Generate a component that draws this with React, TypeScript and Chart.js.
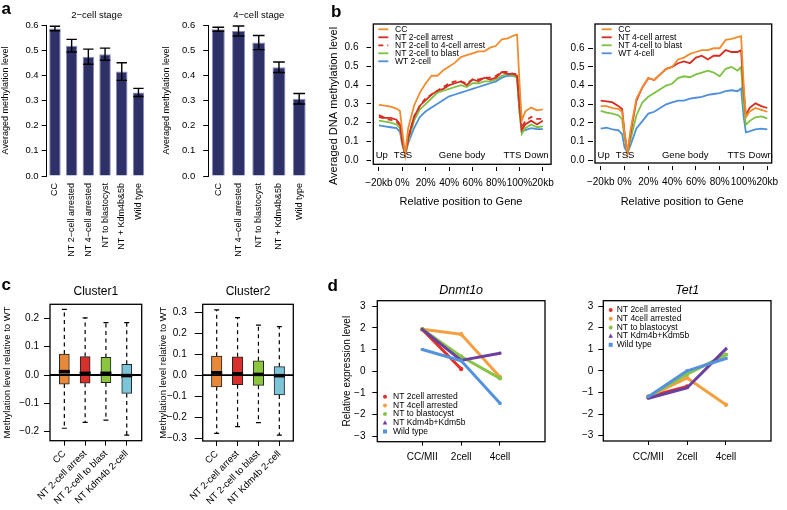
import React, { useEffect, useRef } from 'react';
import { Chart, registerables } from 'chart.js';

Chart.register(...registerables);

const FONT = "'Liberation Sans', Arial, Helvetica, sans-serif";
Chart.defaults.font.family = FONT;
Chart.defaults.color = '#000';

/* ---------------- panel a ---------------- */
const A1_LABELS = ['CC', 'NT 2−cell arrested', 'NT 4−cell arrested', 'NT to blastocyst', 'NT + Kdm4b&5b', 'Wild type'];
const A1_VALUES = [0.586, 0.518, 0.474, 0.484, 0.415, 0.332];
const A1_ERRORS = [0.009, 0.025, 0.03, 0.024, 0.035, 0.016];
const A2_LABELS = ['CC', 'NT 4−cell arrested', 'NT to blastocyst', 'NT + Kdm4b&5b', 'Wild type'];
const A2_VALUES = [0.583, 0.576, 0.53, 0.432, 0.307];
const A2_ERRORS = [0.008, 0.02, 0.028, 0.021, 0.021];
const A_YTICKS = [0, 0.1, 0.2, 0.3, 0.4, 0.5, 0.6];

/* ---------------- panel b ---------------- */
const B_X = [-20, -15, -10, -5, -2, 0, 2.5, 5, 10, 15, 20, 25, 30, 35, 40, 45, 50, 55, 60, 65, 70, 75, 80, 85, 90, 95, 98, 100, 102, 105, 110, 115, 120];
const B_XTICKS = [-20, 0, 20, 40, 60, 80, 100, 120];
const B_XTICK_LABELS = ['−20kb', '0%', '20%', '40%', '60%', '80%', '100%', '20kb'];
const B_YTICKS = [0, 0.1, 0.2, 0.3, 0.4, 0.5, 0.6];
const B_REGION_LABELS = ['Up', 'TSS', 'Gene body', 'TTS', 'Down'];
const B_REGION_X = [-17.5, 0.5, 51, 94, 114.5];

const B1_SERIES = ['CC', 'NT 2-cell arrest', 'NT 2-cell to 4-cell arrest', 'NT 2-cell to blast', 'WT 2-cell'];
const B1_CC = [0.295, 0.29, 0.285, 0.275, 0.262, 0.15, 0.03, 0.17, 0.29, 0.36, 0.41, 0.45, 0.45, 0.48, 0.5, 0.52, 0.55, 0.56, 0.57, 0.58, 0.58, 0.6, 0.61, 0.645, 0.65, 0.665, 0.67, 0.42, 0.21, 0.26, 0.28, 0.265, 0.27];
const B1_ARREST = [0.24, 0.225, 0.225, 0.215, 0.19, 0.1, 0.03, 0.12, 0.23, 0.29, 0.32, 0.35, 0.37, 0.38, 0.4, 0.41, 0.42, 0.4, 0.43, 0.42, 0.44, 0.43, 0.44, 0.47, 0.46, 0.46, 0.45, 0.3, 0.16, 0.19, 0.21, 0.19, 0.21];
const B1_TO4 = [0.23, 0.22, 0.215, 0.205, 0.185, 0.095, 0.03, 0.11, 0.23, 0.29, 0.33, 0.35, 0.37, 0.39, 0.41, 0.42, 0.42, 0.41, 0.43, 0.43, 0.44, 0.44, 0.45, 0.47, 0.47, 0.46, 0.46, 0.3, 0.17, 0.21, 0.23, 0.22, 0.22];
const B1_BLAST = [0.21, 0.205, 0.2, 0.19, 0.17, 0.09, 0.03, 0.1, 0.21, 0.27, 0.3, 0.33, 0.36, 0.37, 0.38, 0.39, 0.4, 0.39, 0.41, 0.41, 0.42, 0.42, 0.43, 0.45, 0.46, 0.45, 0.44, 0.26, 0.14, 0.17, 0.19, 0.175, 0.18];
const B1_WT = [0.185, 0.18, 0.175, 0.17, 0.15, 0.08, 0.03, 0.09, 0.17, 0.23, 0.26, 0.28, 0.3, 0.32, 0.34, 0.35, 0.36, 0.37, 0.38, 0.39, 0.4, 0.41, 0.42, 0.44, 0.45, 0.45, 0.44, 0.26, 0.15, 0.16, 0.17, 0.165, 0.165];

const B2_SERIES = ['CC', 'NT 4-cell arrest', 'NT 4-cell to blast', 'WT 4-cell'];
const B2_CC = [0.29, 0.29, 0.28, 0.275, 0.26, 0.14, 0.04, 0.16, 0.33, 0.39, 0.44, 0.43, 0.46, 0.49, 0.5, 0.54, 0.55, 0.57, 0.58, 0.59, 0.59, 0.6, 0.6, 0.645, 0.65, 0.66, 0.665, 0.42, 0.23, 0.26, 0.28, 0.27, 0.26];
const B2_ARREST = [0.32, 0.315, 0.31, 0.29, 0.275, 0.15, 0.04, 0.14, 0.32, 0.39, 0.44, 0.43, 0.46, 0.49, 0.5, 0.52, 0.53, 0.52, 0.55, 0.56, 0.54, 0.56, 0.56, 0.59, 0.58, 0.58, 0.59, 0.38, 0.24, 0.28, 0.305, 0.29, 0.28];
const B2_BLAST = [0.265, 0.255, 0.25, 0.24, 0.22, 0.12, 0.04, 0.11, 0.24, 0.31, 0.34, 0.36, 0.38, 0.4, 0.41, 0.44, 0.45, 0.445, 0.46, 0.47, 0.48, 0.47, 0.45, 0.49, 0.5, 0.48, 0.5, 0.3, 0.19, 0.21, 0.23, 0.235, 0.225];
const B2_WT = [0.17, 0.175, 0.165, 0.16, 0.14, 0.07, 0.04, 0.08, 0.17, 0.21, 0.25, 0.26, 0.28, 0.3, 0.31, 0.32, 0.32, 0.33, 0.335, 0.34, 0.35, 0.355, 0.36, 0.37, 0.375, 0.37, 0.385, 0.24, 0.15, 0.155, 0.165, 0.17, 0.165];

/* ---------------- panel c ---------------- */
const C_LABELS = ['CC', 'NT 2-cell arrest', 'NT 2-cell to blast', 'NT Kdm4b 2-cell'];
const C_COLORS = ['#E8893A', '#D7302D', '#8CC63F', '#7CC5D8'];
const C1_MAX = [0.232, 0.202, 0.185, 0.185];
const C1_Q3 = [0.074, 0.065, 0.062, 0.038];
const C1_MED = [0.012, 0.006, 0.006, -0.002];
const C1_Q1 = [-0.032, -0.029, -0.027, -0.065];
const C1_MIN = [-0.188, -0.167, -0.159, -0.212];
const C1_YTICKS = [-0.2, -0.1, 0, 0.1, 0.2];
const C2_MAX = [0.31, 0.273, 0.238, 0.23];
const C2_Q3 = [0.09, 0.087, 0.068, 0.04];
const C2_MED = [0.011, 0.006, 0.003, -0.003];
const C2_Q1 = [-0.056, -0.046, -0.049, -0.095];
const C2_MIN = [-0.278, -0.246, -0.227, -0.286];
const C2_YTICKS = [-0.3, -0.2, -0.1, 0, 0.1, 0.2, 0.3];

/* ---------------- panel d ---------------- */
const D_STAGES = ['CC/MII', '2cell', '4cell'];
const D_SERIES = ['NT 2cell arrested', 'NT 4cell arrested', 'NT to blastocyst', 'NT Kdm4b+Kdm5b', 'Wild type'];
const D_COLORS = ['#E0312A', '#F4A040', '#88C448', '#6B3FA0', '#5592DD'];
const D_MARKERS = ['circle', 'circle', 'circle', 'triangle', 'rect'];
const D_YTICKS = [-3, -2, -1, 0, 1, 2, 3];
const DNMT_2CELL_ARR = [1.93, 0.1];
const DNMT_4CELL_ARR = [1.93, 1.7, -0.27];
const DNMT_BLAST = [1.93, 0.68, -0.33];
const DNMT_KDM = [1.93, 0.5, 0.83];
const DNMT_WT = [1.0, 0.48, -1.48];
const TET_2CELL_ARR = [-1.2, -0.72];
const TET_4CELL_ARR = [-1.2, -0.33, -1.57];
const TET_BLAST = [-1.2, -0.15, 0.75];
const TET_KDM = [-1.27, -0.78, 1.02];
const TET_WT = [-1.2, 0.0, 0.57];

/* ---------------- helpers ---------------- */
const BLACK = '#000';
const tickGrid = (len: number) => ({ display: true, drawOnChartArea: false, drawTicks: true, tickLength: len, color: BLACK, lineWidth: 1, offset: false });
const fixedWidth = (w: number) => (s: any) => { s.width = w; };
const fixedHeight = (h: number) => (s: any) => { s.height = h; };
const setTicks = (vals: number[]) => (s: any) => { s.ticks = vals.map((v) => ({ value: v })); };
const fmt1 = (v: any) => { const s = Number(v).toFixed(1); return s.charAt(0) === '-' ? '−' + s.slice(1) : s; };
const fmtInt = (v: any) => { const n = Math.round(Number(v)); return n < 0 ? '−' + Math.abs(n) : String(n); };

const errorBarPlugin = {
  id: 'errorBars',
  afterDatasetsDraw(chart: any, _a: any, o: any) {
    if (!o || !o.errors) return;
    const { ctx } = chart;
    const y = chart.scales.y;
    const vals = chart.data.datasets[0].data;
    ctx.save();
    ctx.strokeStyle = BLACK;
    ctx.lineWidth = 1.4;
    chart.getDatasetMeta(0).data.forEach((el: any, i: number) => {
      const half = el.width * 0.45;
      const yt = y.getPixelForValue(vals[i] + o.errors[i]);
      const yb = y.getPixelForValue(vals[i] - o.errors[i]);
      ctx.beginPath();
      ctx.moveTo(el.x, yt); ctx.lineTo(el.x, yb);
      ctx.moveTo(el.x - half, yt); ctx.lineTo(el.x + half, yt);
      ctx.moveTo(el.x - half, yb); ctx.lineTo(el.x + half, yb);
      ctx.stroke();
    });
    ctx.restore();
  },
};

const framePlugin = {
  id: 'frame',
  afterDatasetsDraw(chart: any, _a: any, o: any) {
    if (!o || !o.show) return;
    const { ctx, chartArea: a } = chart;
    const l = a.left + (o.insetLeft || 0);
    const b = a.bottom - (o.insetBottom || 0);
    ctx.save();
    ctx.strokeStyle = BLACK;
    ctx.lineWidth = o.lineWidth || 1.2;
    ctx.strokeRect(l, a.top, a.right - l, b - a.top);
    ctx.restore();
  },
};

// y-axis title placed at a chosen vertical centre (the R label is not centred on the box)
const freeYTitlePlugin = {
  id: 'freeYTitle',
  afterDraw(chart: any, _a: any, o: any) {
    if (!o || !o.text) return;
    const { ctx } = chart;
    ctx.save();
    ctx.fillStyle = BLACK;
    ctx.font = `${o.size}px ${FONT}`;
    ctx.textAlign = 'center';
    ctx.textBaseline = 'middle';
    ctx.translate(o.x, o.y);
    ctx.rotate(-Math.PI / 2);
    ctx.fillText(o.text, 0, 0);
    ctx.restore();
  },
};

const regionTextPlugin = {
  id: 'regionText',
  afterDatasetsDraw(chart: any, _a: any, o: any) {
    if (!o || !o.labels) return;
    const { ctx, scales } = chart;
    ctx.save();
    ctx.fillStyle = BLACK;
    ctx.font = `${o.size}px ${FONT}`;
    ctx.textAlign = 'center';
    ctx.textBaseline = 'middle';
    o.labels.forEach((t: string, i: number) => {
      ctx.fillText(t, scales.x.getPixelForValue(o.xs[i]), scales.y.getPixelForValue(o.y));
    });
    ctx.restore();
  },
};

function drawMarker(ctx: any, style: string, x: number, y: number, r: number, color: string) {
  ctx.fillStyle = color;
  ctx.beginPath();
  if (style === 'triangle') {
    ctx.moveTo(x, y - r * 1.25);
    ctx.lineTo(x + r * 1.15, y + r * 0.8);
    ctx.lineTo(x - r * 1.15, y + r * 0.8);
    ctx.closePath();
  } else if (style === 'rect') {
    ctx.rect(x - r, y - r, 2 * r, 2 * r);
  } else {
    ctx.arc(x, y, r, 0, Math.PI * 2);
  }
  ctx.fill();
}

const insideLegendPlugin = {
  id: 'insideLegend',
  afterDraw(chart: any, _a: any, o: any) {
    if (!o || o.dx == null) return;
    const { ctx, chartArea: a } = chart;
    ctx.save();
    ctx.font = `${o.size}px ${FONT}`;
    ctx.textBaseline = 'middle';
    ctx.textAlign = 'left';
    chart.data.datasets.forEach((ds: any, i: number) => {
      const y = a.top + o.dy + i * o.rowH;
      const x = a.left + o.dx;
      if (o.kind === 'line') {
        ctx.strokeStyle = ds.borderColor;
        ctx.lineWidth = 1.8;
        ctx.setLineDash(ds.borderDash || []);
        ctx.beginPath();
        ctx.moveTo(x, y);
        ctx.lineTo(x + o.len, y);
        ctx.stroke();
        ctx.setLineDash([]);
      } else {
        drawMarker(ctx, ds.pointStyle, x, y, o.r, ds.borderColor);
      }
      ctx.fillStyle = BLACK;
      ctx.fillText(ds.label, a.left + o.textDx, y);
    });
    ctx.restore();
  },
};

const boxPlotPlugin = {
  id: 'boxStats',
  beforeDatasetsDraw(chart: any, _a: any, o: any) {
    if (!o || !o.max) return;
    const { ctx, scales } = chart;
    const x = scales.x, y = scales.y;
    ctx.save();
    ctx.strokeStyle = BLACK;
    ctx.lineWidth = 1.2;
    o.max.forEach((mx: number, i: number) => {
      const px = x.getPixelForValue(i + 1);
      const yMax = y.getPixelForValue(mx);
      const yQ3 = y.getPixelForValue(o.q3[i]);
      const yQ1 = y.getPixelForValue(o.q1[i]);
      const yMin = y.getPixelForValue(o.min[i]);
      ctx.setLineDash([4, 3.5]);
      ctx.beginPath();
      ctx.moveTo(px, yQ3); ctx.lineTo(px, yMax);
      ctx.moveTo(px, yQ1); ctx.lineTo(px, yMin);
      ctx.stroke();
      ctx.setLineDash([]);
      ctx.beginPath();
      ctx.moveTo(px - o.cap, yMax); ctx.lineTo(px + o.cap, yMax);
      ctx.moveTo(px - o.cap, yMin); ctx.lineTo(px + o.cap, yMin);
      ctx.stroke();
    });
    ctx.restore();
  },
  afterDatasetsDraw(chart: any, _a: any, o: any) {
    if (!o || !o.med) return;
    const { ctx, scales, chartArea: a } = chart;
    const x = scales.x, y = scales.y;
    ctx.save();
    ctx.strokeStyle = BLACK;
    ctx.lineWidth = 1.8;
    const y0 = y.getPixelForValue(0);
    ctx.beginPath();
    ctx.moveTo(a.left, y0); ctx.lineTo(a.right, y0);
    ctx.stroke();
    ctx.lineWidth = 3.5;
    o.med.forEach((m: number, i: number) => {
      const px = x.getPixelForValue(i + 1);
      const py = y.getPixelForValue(m);
      ctx.beginPath();
      ctx.moveTo(px - o.medHalf, py); ctx.lineTo(px + o.medHalf, py);
      ctx.stroke();
    });
    ctx.restore();
  },
};

/* ---------------- chart configs ---------------- */
function barConfig(p: any) {
  return {
    type: 'bar',
    data: {
      labels: p.labels,
      datasets: [{ data: p.values, backgroundColor: '#2e3168', borderColor: '#8c8fbd', borderWidth: 1, barPercentage: p.barPct, categoryPercentage: 1 }],
    },
    options: {
      responsive: false, animation: false, devicePixelRatio: 1,
      layout: { padding: { left: p.padLeft, right: p.padRight, top: 0, bottom: 0 }, autoPadding: false },
      plugins: {
        legend: { display: false }, tooltip: { enabled: false },
        title: { display: true, text: p.title, fullSize: false, color: BLACK, font: { size: 9.5, weight: 'normal' }, padding: { top: 9.3, bottom: 4.3 } },
        errorBars: { errors: p.errors },
      },
      scales: {
        x: {
          grid: { display: false, drawTicks: false, tickLength: 0 }, border: { display: false },
          ticks: { autoSkip: false, minRotation: 90, maxRotation: 90, padding: 7, font: { size: 9 } },
          afterFit: fixedHeight(p.xHeight),
        },
        y: {
          min: 0, max: 0.6, afterBuildTicks: setTicks(A_YTICKS),
          ticks: { callback: fmt1, font: { size: 9.5 }, padding: p.yTickPad },
          grid: tickGrid(5), border: { display: true, color: BLACK, width: 1 },
          title: { display: true, text: 'Averaged methylation level', font: { size: 9 }, padding: { top: p.yTitlePad, bottom: 0 } },
          afterFit: fixedWidth(p.yWidth),
        },
      },
    },
    plugins: [errorBarPlugin],
  };
}

function methylConfig(p: any) {
  return {
    type: 'line',
    data: {
      datasets: p.values.map((vals: number[], i: number) => ({
        label: p.series[i],
        data: B_X.map((x, j) => ({ x, y: vals[j] })),
        borderColor: p.colors[i],
        borderDash: p.dashes[i],
        borderWidth: 1.8, pointRadius: 0, tension: 0, fill: false,
      })),
    },
    options: {
      responsive: false, animation: false, devicePixelRatio: 1,
      layout: { padding: { left: p.padLeft, right: p.padRight, top: 24, bottom: 0 }, autoPadding: false },
      plugins: {
        legend: { display: false }, tooltip: { enabled: false }, title: { display: false },
        frame: { show: true, insetLeft: p.insetLeft, insetBottom: p.insetBottom, lineWidth: 1.3 },
        regionText: { labels: B_REGION_LABELS, xs: B_REGION_X, y: 0.024, size: 9.5 },
        insideLegend: { kind: 'line', dx: p.legDx, textDx: p.legTextDx, dy: 5.3, rowH: 8, len: 10, size: 8.5 },
        freeYTitle: p.yTitle ? { text: p.yTitle, x: p.yTitleX, y: p.yTitleY, size: 11 } : {},
      },
      scales: {
        x: {
          type: 'linear', min: p.xMin, max: p.xMax, afterBuildTicks: setTicks(B_XTICKS),
          ticks: { autoSkip: false, maxRotation: 0, font: { size: 10 }, padding: 6, callback: (v: any) => B_XTICK_LABELS[B_XTICKS.indexOf(Number(v))] },
          grid: tickGrid(4.5), border: { display: false },
          title: { display: true, text: 'Relative position to Gene', font: { size: 11 }, padding: { top: 0, bottom: 3.7 } },
          afterFit: fixedHeight(p.xHeight),
        },
        y: {
          min: p.yMin, max: p.yMax, afterBuildTicks: setTicks(B_YTICKS),
          ticks: { callback: fmt1, font: { size: 10 }, padding: p.yTickPad },
          grid: tickGrid(4.5), border: { display: false },
          title: { display: false },
          afterFit: fixedWidth(p.yWidth),
        },
      },
    },
    plugins: [framePlugin, regionTextPlugin, insideLegendPlugin, freeYTitlePlugin],
  };
}

function clusterConfig(p: any) {
  return {
    type: 'bar',
    data: {
      datasets: [{
        data: p.q1.map((q: number, i: number) => ({ x: i + 1, y: [q, p.q3[i]] })),
        backgroundColor: C_COLORS, borderColor: '#222', borderWidth: 1, borderSkipped: false, barThickness: p.boxW,
      }],
    },
    options: {
      responsive: false, animation: false, devicePixelRatio: 1,
      layout: { padding: { left: p.padLeft, right: p.padRight, top: 0, bottom: 0 }, autoPadding: false },
      plugins: {
        legend: { display: false }, tooltip: { enabled: false },
        title: { display: true, text: p.title, fullSize: false, color: BLACK, font: { size: 12, weight: 'normal' }, padding: { top: 4.5, bottom: 5.4 } },
        frame: { show: true, lineWidth: 1.3 },
        boxStats: { min: p.min, q1: p.q1, med: p.med, q3: p.q3, max: p.max, cap: 2.5, medHalf: 5.5 },
      },
      scales: {
        x: {
          type: 'linear', min: p.xMin, max: p.xMax, offset: false, afterBuildTicks: setTicks([1, 2, 3, 4]),
          ticks: { autoSkip: false, minRotation: 45, maxRotation: 45, padding: 2.5, font: { size: 9.5 }, callback: (v: any) => C_LABELS[Math.round(Number(v)) - 1] },
          grid: tickGrid(5), border: { display: false },
          afterFit: fixedHeight(p.xHeight),
        },
        y: {
          min: p.yMin, max: p.yMax, afterBuildTicks: setTicks(p.yTicks),
          ticks: { callback: fmt1, font: { size: 10 }, padding: p.yTickPad },
          grid: tickGrid(p.yTickLen), border: { display: false },
          title: { display: true, text: 'Methylation level relative to WT', font: { size: 9.5 }, padding: { top: p.yTitlePad, bottom: 0 } },
          afterFit: fixedWidth(p.yWidth),
        },
      },
    },
    plugins: [boxPlotPlugin, framePlugin],
  };
}

function exprConfig(p: any) {
  return {
    type: 'line',
    data: {
      datasets: p.sets.map((vals: number[], i: number) => ({
        label: D_SERIES[i],
        data: vals.map((v, j) => ({ x: j, y: v })),
        borderColor: D_COLORS[i], backgroundColor: D_COLORS[i],
        borderWidth: 3, pointStyle: D_MARKERS[i], pointRadius: 2.2, pointBorderWidth: 0,
        tension: 0, order: 4 - i, borderCapStyle: 'round', borderJoinStyle: 'round',
      })),
    },
    options: {
      responsive: false, animation: false, devicePixelRatio: 1,
      layout: { padding: { left: p.padLeft, right: p.padRight, top: 0, bottom: 0 }, autoPadding: false },
      plugins: {
        legend: { display: false }, tooltip: { enabled: false },
        title: { display: true, text: p.title, fullSize: false, color: BLACK, font: { size: 12.5, style: 'italic', weight: 'normal' }, padding: { top: 3.5, bottom: 2.2 } },
        frame: { show: true, lineWidth: 1.3 },
        insideLegend: { kind: 'marker', dx: p.legDx, textDx: p.legTextDx, dy: p.legDy, rowH: 8.7, r: 2, size: 8.5 },
      },
      scales: {
        x: {
          type: 'linear', min: -1.16, max: 3.16, afterBuildTicks: setTicks([0, 1, 2]),
          ticks: { autoSkip: false, maxRotation: 0, font: { size: 10 }, padding: 6, callback: (v: any) => D_STAGES[Math.round(Number(v))] },
          grid: tickGrid(4), border: { display: false },
          afterFit: fixedHeight(p.xHeight),
        },
        y: {
          min: -3.25, max: 3.25, afterBuildTicks: setTicks(D_YTICKS),
          ticks: { callback: fmtInt, font: { size: 10 }, padding: p.yTickPad },
          grid: tickGrid(5), border: { display: false },
          title: p.yTitle ? { display: true, text: p.yTitle, font: { size: 10 }, padding: { top: 0, bottom: 0 } } : { display: false },
          afterFit: fixedWidth(p.yWidth),
        },
      },
    },
    plugins: [framePlugin, insideLegendPlugin],
  };
}

/* ---------------- components ---------------- */
function ChartBox({ left, top, width, height, make }: { left: number; top: number; width: number; height: number; make: () => any }) {
  const ref = useRef<HTMLCanvasElement | null>(null);
  useEffect(() => {
    const chart = new Chart(ref.current as HTMLCanvasElement, make());
    return () => chart.destroy();
  }, []);
  return <canvas ref={ref} width={width} height={height} style={{ position: 'absolute', left, top, width, height }} />;
}

const LETTERS = [
  { t: 'a', x: 1.5, y: 0 },
  { t: 'b', x: 331, y: 3 },
  { t: 'c', x: 1.5, y: 276 },
  { t: 'd', x: 327.5, y: 277 },
];

export default function App() {
  return (
    <div style={{ position: 'fixed', left: 0, top: 0, width: 787, height: 510, background: '#fff', overflow: 'hidden', fontFamily: FONT }}>
      <ChartBox left={0} top={0} width={160} height={272} make={() => barConfig({
        labels: A1_LABELS, values: A1_VALUES, errors: A1_ERRORS, title: '2−cell stage',
        padLeft: 0, padRight: 13.2, yWidth: 46.6, xHeight: 96, barPct: 0.69, yTickPad: 3, yTitlePad: 0.6,
      })} />
      <ChartBox left={158} top={0} width={162} height={272} make={() => barConfig({
        labels: A2_LABELS, values: A2_VALUES, errors: A2_ERRORS, title: '4−cell stage',
        padLeft: 3, padRight: 10.7, yWidth: 47.2, xHeight: 96, barPct: 0.64, yTickPad: 8, yTitlePad: 0.3,
      })} />
      <ChartBox left={326} top={0} width={234} height={212} make={() => methylConfig({
        series: B1_SERIES, values: [B1_CC, B1_ARREST, B1_TO4, B1_BLAST, B1_WT],
        colors: ['#F08C2E', '#D42E22', '#D42E22', '#7CC242', '#4D8FDB'],
        dashes: [undefined, undefined, [5, 4], undefined, undefined],
        padLeft: 1, padRight: 6.7, yWidth: 44, xHeight: 45.5, yMin: -0.0347, yMax: 0.7265, xMin: -26.75, xMax: 127,
        yTitle: 'Averaged DNA methylation level', yTitleX: 7.5, yTitleY: 106, yTickPad: 8, insetLeft: 2.3, insetBottom: 2.2, legDx: 7.3, legTextDx: 24,
      })} />
      <ChartBox left={562} top={0} width={225} height={212} make={() => methylConfig({
        series: B2_SERIES, values: [B2_CC, B2_ARREST, B2_BLAST, B2_WT],
        colors: ['#F08C2E', '#D42E22', '#7CC242', '#4D8FDB'],
        dashes: [undefined, undefined, undefined, undefined],
        padLeft: 0, padRight: 15.3, yWidth: 30.5, xHeight: 46.5, yMin: -0.0279, yMax: 0.73, xMin: -26.9, xMax: 123.7,
        yTitle: null, yTickPad: 3.5, insetLeft: 2.5, insetBottom: 2.5, legDx: 9.2, legTextDx: 25.8,
      })} />
      <ChartBox left={0} top={280} width={150} height={230} make={() => clusterConfig({
        title: 'Cluster1', min: C1_MIN, q1: C1_Q1, med: C1_MED, q3: C1_Q3, max: C1_MAX, yTicks: C1_YTICKS,
        padLeft: 2, padRight: 8.3, yWidth: 48, xHeight: 69.3, yMin: -0.2319, yMax: 0.2496, xMin: 0.31, xMax: 4.72,
        boxW: 10, yTickPad: 5, yTickLen: 6, yTitlePad: 0,
      })} />
      <ChartBox left={150} top={280} width={162} height={230} make={() => clusterConfig({
        title: 'Cluster2', min: C2_MIN, q1: C2_Q1, med: C2_MED, q3: C2_Q3, max: C2_MAX, yTicks: C2_YTICKS,
        padLeft: 6, padRight: 18.7, yWidth: 46.7, xHeight: 69, yMin: -0.314, yMax: 0.3367, xMin: 0.33, xMax: 4.67,
        boxW: 10.5, yTickPad: 8, yTickLen: 8, yTitlePad: 1.6,
      })} />
      <ChartBox left={318} top={280} width={240} height={230} make={() => exprConfig({
        title: 'Dnmt1o', sets: [DNMT_2CELL_ARR, DNMT_4CELL_ARR, DNMT_BLAST, DNMT_KDM, DNMT_WT],
        padLeft: 23.3, padRight: 13, yWidth: 36, xHeight: 68.3, yTickPad: 6.8, yTitle: 'Relative expression level',
        legDx: 7.7, legTextDx: 15.7, legDy: 96,
      })} />
      <ChartBox left={560} top={280} width={227} height={230} make={() => exprConfig({
        title: 'Tet1', sets: [TET_2CELL_ARR, TET_4CELL_ARR, TET_BLAST, TET_KDM, TET_WT],
        padLeft: 0, padRight: 16, yWidth: 43.3, xHeight: 69, yTickPad: 5, yTitle: null,
        legDx: 7.4, legTextDx: 13.4, legDy: 9.3,
      })} />
      {LETTERS.map((l) => (
        <div key={l.t} style={{ position: 'absolute', left: l.x, top: l.y, fontSize: 17, lineHeight: '17px', fontWeight: 'bold', color: '#000' }}>{l.t}</div>
      ))}
    </div>
  );
}
